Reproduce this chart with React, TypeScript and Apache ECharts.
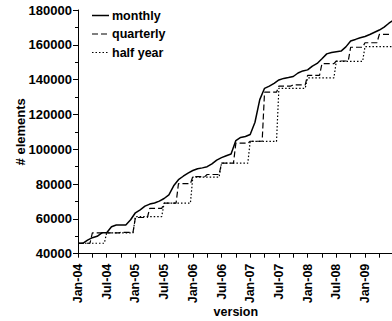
import React, { useEffect, useRef } from 'react';
import * as echarts from 'echarts';

// Element counts per version, one value per month starting Jan-04
const monthly = [
  46000, 46000, 47800, 49200, 50000, 52000, 52000, 55500, 56500, 56500, 56500, 59500,
  63500, 65200, 67300, 68500, 69100, 70200, 71700, 73800, 79000, 82500, 84500, 86300,
  87800, 88800, 89300, 90000, 91600, 93800, 95200, 96300, 97300, 105000, 106800, 107300,
  108500, 115500, 128500, 135000, 136300, 137900, 139800, 140700, 141200, 141800, 143800, 145000,
  145600, 147800, 149300, 152000, 154800, 155600, 156000, 156400, 158800, 162200, 163100, 164100,
  164800, 165900, 167200, 168500, 170200, 172400, 174200,
];

// One value per quarter starting Jan-04
const quarterly = [
  46000, 52000, 52000, 52300, 60800, 66000, 69000, 80200, 84300, 85500, 92000,
  103500, 104600, 132800, 136300, 137000, 142500, 149200, 150700, 158600, 161200, 166000,
];

// One value per half year starting Jan-04
const halfYear = [46000, 52000, 61300, 69000, 84000, 92000, 104500, 135000, 141000, 150500, 159000];

const tickLabels = [
  'Jan-04', 'Jul-04', 'Jan-05', 'Jul-05', 'Jan-06', 'Jul-06',
  'Jan-07', 'Jul-07', 'Jan-08', 'Jul-08', 'Jan-09',
];

const seriesNames = ['monthly', 'quarterly', 'half year'];
const lastMonth = 66;

// Dash patterns shared by the series and the legend keys
const dashes: (number[] | 'solid')[] = ['solid', [6, 3], [1.5, 2]];
const widths = [1.5, 1.2, 1.2];

// Hold each release value for its whole period, rising just before the next one
function stepped(values: number[], period: number): number[][] {
  const pts: number[][] = [];
  values.forEach((v, i) => {
    const start = i * period;
    const end = i === values.length - 1 ? lastMonth : start + period - 0.5;
    pts.push([start, v], [end, v]);
  });
  return pts;
}

const FONT = "'Liberation Sans', Arial, sans-serif";

export default function App() {
  const ref = useRef<HTMLDivElement>(null);

  useEffect(() => {
    if (!ref.current) return;
    const chart = echarts.init(ref.current, undefined, { renderer: 'svg' });
    const textStyle = { fontFamily: FONT, fontWeight: 'bold' as const, color: '#000' };

    // Legend keys: a short line sample followed by the series name
    const legendItems: any[] = [];
    seriesNames.forEach((name, i) => {
      const y = 15.5 + i * 18.5;
      const dash = dashes[i];
      legendItems.push({
        type: 'line',
        shape: { x1: 92, y1: y, x2: 109, y2: y },
        style: {
          stroke: '#000',
          lineWidth: widths[i],
          lineDash: dash === 'solid' ? null : dash,
        },
      });
      legendItems.push({
        type: 'text',
        x: 112,
        y,
        style: {
          text: name,
          fill: '#000',
          font: `bold 12.5px ${FONT}`,
          textAlign: 'left',
          textVerticalAlign: 'middle',
        },
      });
    });

    const allSeries = [monthly.map((v, i) => [i, v]), stepped(quarterly, 3), stepped(halfYear, 6)];

    chart.setOption({
      animation: false,
      textStyle: { fontFamily: FONT },
      grid: { left: 78, top: 10, width: 315.7, height: 243.7, outerBoundsMode: 'none' },
      graphic: legendItems,
      xAxis: {
        type: 'value',
        min: 0,
        max: lastMonth,
        interval: 3,
        name: 'version',
        nameLocation: 'middle',
        nameGap: 52,
        nameMoveOverlap: false,
        nameTextStyle: { ...textStyle, fontSize: 12.5 },
        axisLine: { lineStyle: { color: '#000', width: 1 } },
        axisTick: { show: true, length: 4, lineStyle: { color: '#000' } },
        axisLabel: {
          ...textStyle,
          fontSize: 12.5,
          rotate: 90,
          margin: 10,
          formatter: (v: number) => (v % 6 === 0 ? tickLabels[v / 6] ?? '' : ''),
        },
        splitLine: { show: false },
      },
      yAxis: {
        type: 'value',
        min: 40000,
        max: 180000,
        interval: 20000,
        name: '# elements',
        nameLocation: 'middle',
        nameGap: 51,
        nameMoveOverlap: false,
        nameTextStyle: { ...textStyle, fontSize: 13 },
        axisLine: { show: true, lineStyle: { color: '#000', width: 1 } },
        axisTick: { show: true, length: 5, lineStyle: { color: '#000' } },
        minorTick: { show: true, splitNumber: 2, length: 3, lineStyle: { color: '#000' } },
        axisLabel: { ...textStyle, fontSize: 13, margin: 6, formatter: (v: number) => String(v) },
        splitLine: { show: false },
      },
      series: seriesNames.map((name, i) => ({
        name,
        type: 'line',
        symbol: 'none',
        data: allSeries[i],
        lineStyle: { color: '#000', width: widths[i], type: dashes[i] },
        itemStyle: { color: '#000' },
        z: 3 - i,
      })),
    });
    return () => chart.dispose();
  }, []);

  return (
    <div
      ref={ref}
      style={{ position: 'absolute', left: 0, top: 0, width: 392, height: 321, background: '#fff' }}
    />
  );
}
